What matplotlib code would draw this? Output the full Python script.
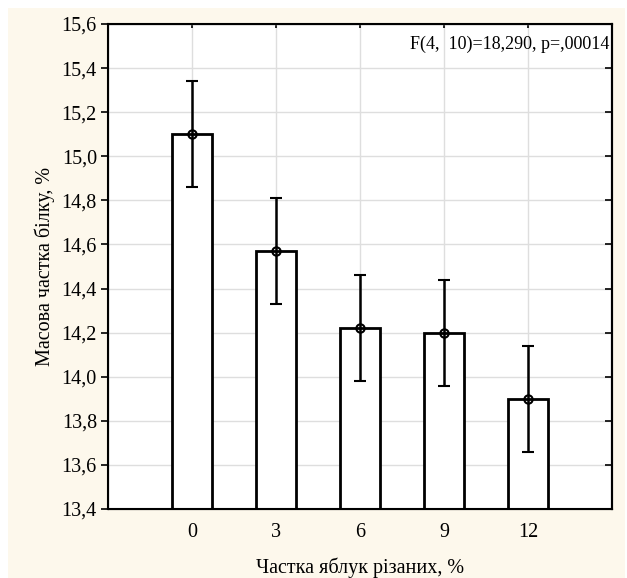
import numpy as np
import matplotlib
matplotlib.use('Agg')
import matplotlib.pyplot as plt
from matplotlib.patches import Rectangle

plt.rcParams['font.family'] = ['Liberation Serif', 'DejaVu Serif']

# частка яблук різаних, % та масова частка білку
dose = ['0', '3', '6', '9', '12']
mean = [15.10, 14.57, 14.22, 14.20, 13.90]
ci = [0.24, 0.24, 0.24, 0.24, 0.24]

yticks = [13.4, 13.6, 13.8, 14.0, 14.2, 14.4, 14.6, 14.8, 15.0, 15.2, 15.4, 15.6]
ylabels = ['13,4', '13,6', '13,8', '14,0', '14,2', '14,4', '14,6', '14,8', '15,0', '15,2', '15,4', '15,6']
stat_text = 'F(4,  10)=18,290, p=,00014'

fig = plt.figure(figsize=(6.27, 5.78), dpi=100, facecolor='white')
fig.patches.append(Rectangle((8/627, 0), 617/627, 570/578, transform=fig.transFigure,
                             facecolor='#fdf8ec', edgecolor='none', zorder=-10))

ax = fig.add_axes([108/627, 1-509/578, 504/627, 485/578])
ax.set_facecolor('white')

x = np.arange(len(dose))
base = yticks[0]
ax.bar(x, np.array(mean) - base, bottom=base, width=0.48, color='white',
       edgecolor='black', linewidth=2, zorder=2)
ax.errorbar(x, mean, yerr=ci, fmt='o', ms=6, mfc='none', mec='black', mew=1.5,
            ecolor='black', elinewidth=1.8, capsize=4, capthick=1.8, zorder=3)

ax.set_xlim(-1, 5)
ax.set_ylim(13.4, 15.6)
ax.set_xticks(x)
ax.set_xticklabels(dose)
ax.set_yticks(yticks)
ax.set_yticklabels(ylabels)
ax.grid(True, color='#dedede', linewidth=1, zorder=0)
ax.set_axisbelow(True)

for s in ax.spines.values():
    s.set_linewidth(1.5)

ax.tick_params(axis='y', direction='out', length=5, width=1.2, labelsize=14.5, pad=3)
ax.tick_params(axis='x', direction='in', length=3, width=1.2, labelsize=14.5, pad=10,
               top=True)

# праві поділки всередину
ax2 = ax.twinx()
ax2.set_ylim(ax.get_ylim())
ax2.set_yticks(yticks)
ax2.tick_params(axis='y', direction='in', length=5, width=1.2, labelright=False)
ax2.spines['right'].set_linewidth(1.5)

ax.set_xlabel('Частка яблук різаних, %', fontsize=14.5, labelpad=11.5)
ax.set_ylabel('Масова частка білку, %', fontsize=14.5, labelpad=5)
ax.text(0.995, 0.975, stat_text, transform=ax.transAxes, ha='right', va='top',
        fontsize=13)

fig.savefig('out.png', dpi=100, facecolor=fig.get_facecolor())
